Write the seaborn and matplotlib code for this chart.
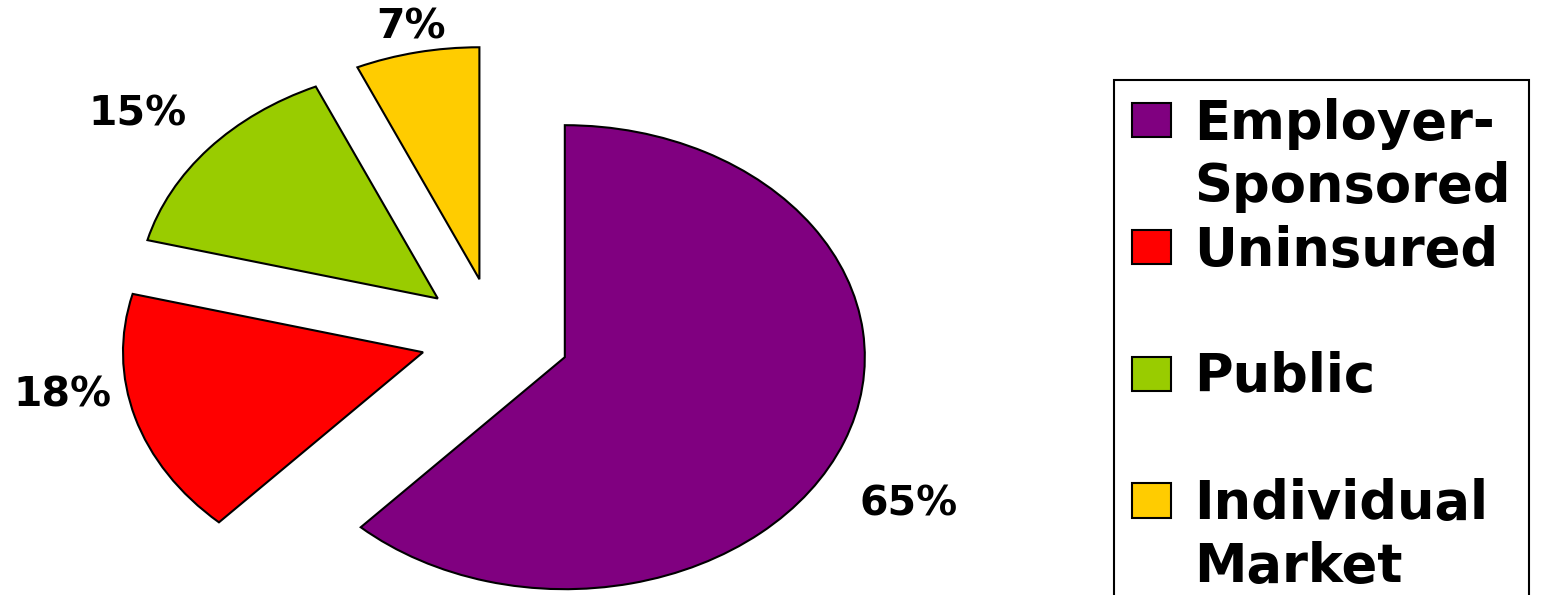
import matplotlib
matplotlib.use("Agg")
import matplotlib.pyplot as plt
import matplotlib.patches as mpatches
import seaborn as sns

# ---- data ----
categories = ["Employer-Sponsored", "Uninsured", "Public", "Individual Market"]
values = [65, 18, 15, 7]
value_labels = ["65%", "18%", "15%", "7%"]
legend_lines = [["Employer-", "Sponsored"], ["Uninsured", " "], ["Public", " "], ["Individual", "Market"]]
colors = ["#800080", "#FF0000", "#99CC00", "#FFCC00"]

# label anchor positions (data coords, styling only)
label_pos = [(1.377, -0.725), (-1.443, -0.255), (-1.193, 0.955), (-0.280, 1.330)]

sns.set_theme(style="white")
plt.rcParams["font.family"] = ["DejaVu Sans"]
plt.rcParams["text.color"] = "black"

fig = plt.figure(figsize=(15.45, 5.95), dpi=100)
ax = fig.add_axes([0, 0, 1, 1])

wedges, texts = ax.pie(
    values,
    colors=colors,
    labels=value_labels,
    explode=[0.25] * len(values),
    startangle=90,
    counterclock=False,
    labeldistance=1.2,
    wedgeprops=dict(edgecolor="black", linewidth=1.5),
    textprops=dict(fontsize=29.5, fontweight="bold", color="black"),
)
for t, (x, y) in zip(texts, label_pos):
    t.set_position((x, y))
    t.set_horizontalalignment("center")
    t.set_verticalalignment("center")

ax.set_aspect("auto")
ax.set_xlim(-1.65, 3.5)
ax.set_ylim(-1.1164, 1.4483)
ax.axis("off")

# legend: one row per text line, marker on first line of each entry
handles, labels = [], []
for w, lines in zip(wedges, legend_lines):
    handles.append(w)
    labels.append(lines[0])
    handles.append(mpatches.Patch(facecolor="none", edgecolor="none"))
    labels.append(lines[1])

fs = 38
leg = fig.legend(
    handles, labels,
    loc="upper left",
    bbox_to_anchor=(1114 / 1545, 1 - 80 / 595),
    borderaxespad=0,
    frameon=True,
    fancybox=False,
    shadow=False,
    prop=dict(size=fs, weight="bold"),
    labelcolor="black",
    handlelength=0.74,
    handleheight=0.62,
    handletextpad=0.44,
    borderpad=0.34,
    labelspacing=0.215,
)
frame = leg.get_frame()
frame.set_edgecolor("black")
frame.set_linewidth(1.5)
frame.set_facecolor("white")
frame.set_alpha(1)

fig.savefig("out.png", dpi=100)
